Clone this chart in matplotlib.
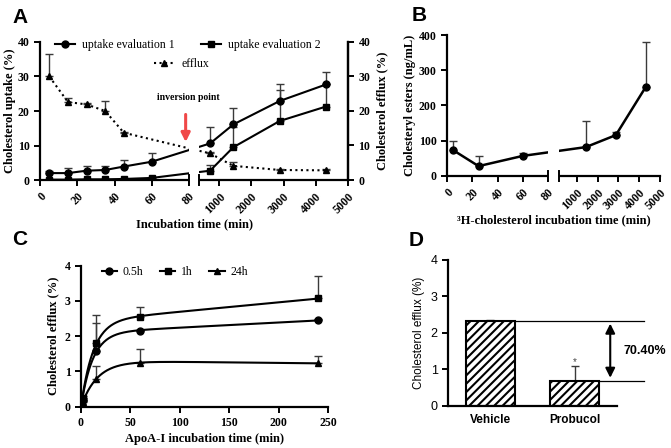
import matplotlib
matplotlib.use('Agg')
import matplotlib.pyplot as plt
import matplotlib.transforms as mtransforms
from matplotlib.patches import Rectangle
from matplotlib.lines import Line2D
import numpy as np

plt.rcParams['font.family'] = 'Liberation Serif'
plt.rcParams['font.weight'] = 'bold'
plt.rcParams['axes.labelweight'] = 'bold'
plt.rcParams['axes.linewidth'] = 1.6
plt.rcParams['xtick.major.width'] = 1.4
plt.rcParams['ytick.major.width'] = 1.4
plt.rcParams['xtick.major.size'] = 4
plt.rcParams['ytick.major.size'] = 4
plt.rcParams['xtick.labelsize'] = 8.5
plt.rcParams['ytick.labelsize'] = 8.5
plt.rcParams['hatch.linewidth'] = 1.5

# ---- panel A : uptake / efflux
a_time = [5, 15, 25, 35, 45, 60, 720, 1440, 2880, 4320]
a_up1 = [2.0, 2.0, 2.7, 2.9, 3.9, 5.3, 10.6, 16.1, 22.9, 27.7]
a_up1_err = [0.7, 1.5, 1.4, 1.3, 2.0, 2.6, 4.9, 4.8, 4.9, 3.7]
a_up2 = [0.1, 0.1, 0.2, 0.2, 0.3, 0.6, 2.7, 9.5, 17.1, 21.3]
a_up2_err = [0.1, 0.1, 0.1, 0.1, 0.1, 0.2, 1.7, 6.0, 9.0, 6.5]
a_eff_time = [5, 15, 25, 35, 45, 720, 1440, 2880, 4320]
a_eff = [30.0, 22.6, 21.9, 20.0, 13.7, 7.7, 4.1, 2.9, 2.8]
a_eff_err = [6.5, 1.2, 0.3, 3.0, 0.3, 0.3, 1.2, 0.3, 0.3]

# ---- panel B : cholesteryl esters
b_time = [5, 25, 60, 1440, 2880, 4320]
b_ce = [73, 28, 57, 82, 116, 253]
b_ce_err = [25, 29, 9, 73, 8, 128]

# ---- panel C : efflux vs apoA-I time
c_time = [2, 15, 60, 240]
c_05h = [0.20, 1.58, 2.15, 2.45]
c_05h_err = [0.05, 0.80, 0.03, 0.03]
c_1h = [0.25, 1.80, 2.55, 3.07]
c_1h_err = [0.05, 0.80, 0.27, 0.65]
c_24h = [0.12, 0.78, 1.25, 1.23]
c_24h_err = [0.05, 0.37, 0.38, 0.22]

# ---- panel D : probucol
d_groups = ['Vehicle', 'Probucol']
d_vals = [2.33, 0.69]
d_err = [0.03, 0.39]
d_label = '70.40%'

err_col = '#3a3a3a'


def break_scale(lo_end, hi_start, hi_end, gap):
    def fwd(x):
        x = np.asarray(x, float)
        return np.where(x <= lo_end, x / lo_end,
                        np.where(x < hi_start, 1 + (x - lo_end) / (hi_start - lo_end) * gap,
                                 1 + gap + (x - hi_start) / (hi_end - hi_start)))

    def inv(y):
        y = np.asarray(y, float)
        return np.where(y <= 1, y * lo_end,
                        np.where(y < 1 + gap, lo_end + (y - 1) / gap * (hi_start - lo_end),
                                 hi_start + (y - 1 - gap) * (hi_end - hi_start)))
    return fwd, inv


def add_break(ax, top_ax, lo_end, hi_start):
    tr = mtransforms.blended_transform_factory(ax.transData, ax.transAxes)
    top_ax.add_patch(Rectangle((lo_end, -0.05), hi_start - lo_end, 1.06, transform=tr,
                               facecolor='white', edgecolor='none', zorder=4, clip_on=False))
    for xb in (lo_end, hi_start):
        top_ax.plot([xb, xb], [-0.035, 0.035], color='black', lw=1.4, transform=tr,
                    clip_on=False, zorder=5)


def upper_err(ax, x, y, e, **kw):
    ax.errorbar(x, y, yerr=[np.zeros(len(e)), e], fmt='none', ecolor=err_col,
                elinewidth=1, capsize=3, capthick=1, **kw)


def rot_labels(ax):
    for lab in ax.get_xticklabels():
        lab.set_rotation(45)
        lab.set_ha('right')
        lab.set_rotation_mode('anchor')


W, H = 671, 448
fig = plt.figure(figsize=(6.71, 4.48), dpi=100)


def box(l, r, t, b):
    return [l / W, 1 - b / H, (r - l) / W, (b - t) / H]


leg_font = {'family': 'Liberation Serif', 'weight': 'normal', 'size': 8.5}

# ================= A
ax = fig.add_axes(box(40, 348, 42, 180))
ax2 = ax.twinx()
fwd, inv = break_scale(80, 375, 5000, 10 / 149)
ax.set_xscale('function', functions=(fwd, inv))
ax.set_xlim(0, 5000)
ax.set_ylim(0, 40)
ax2.set_ylim(0, 40)
upper_err(ax, a_time, a_up1, a_up1_err, zorder=2)
upper_err(ax, a_time, a_up2, a_up2_err, zorder=2)
ax.plot(a_time, a_up1, '-o', color='black', lw=1.5, ms=5, zorder=3)
ax.plot(a_time, a_up2, '-s', color='black', lw=1.5, ms=5, zorder=3)
upper_err(ax2, a_eff_time, a_eff, a_eff_err, zorder=2)
ax2.plot(a_eff_time, a_eff, ':^', color='black', lw=1.5, ms=5, zorder=3)
ax.set_xticks([0, 20, 40, 60, 80, 1000, 2000, 3000, 4000, 5000])
ax.set_xticklabels(['0', '20', '40', '60', '80', '1000', '2000', '3000', '4000', '5000'])
rot_labels(ax)
ax.set_yticks([0, 10, 20, 30, 40])
ax2.set_yticks([0, 10, 20, 30, 40])
ax.spines['top'].set_visible(False)
for s in ('top', 'left', 'bottom'):
    ax2.spines[s].set_visible(False)
ax2.spines['right'].set_linewidth(1.6)
ax.set_ylabel('Cholesterol uptake (%)', fontsize=9, labelpad=1)
ax2.set_ylabel('Cholesterol efflux (%)', fontsize=9, labelpad=4)
ax.set_xlabel('Incubation time (min)', fontsize=9, labelpad=2)
add_break(ax, ax2, 80, 375)
h1 = Line2D([], [], color='black', marker='o', lw=1.5, ms=5)
h2 = Line2D([], [], color='black', marker='s', lw=1.5, ms=5)
h3 = Line2D([], [], color='black', marker='^', ls=':', lw=1.5, ms=5)
leg1 = ax2.legend([h1, h2], ['uptake evaluation 1', 'uptake evaluation 2'], ncol=2,
                  loc='upper center', bbox_to_anchor=(0.48, 1.1), frameon=False, prop=leg_font,
                  handlelength=1.7, columnspacing=2.2, handletextpad=0.6)
ax2.add_artist(leg1)
ax2.legend([h3], ['efflux'], loc='upper center', bbox_to_anchor=(0.46, 0.96), frameon=False,
           prop=leg_font, handlelength=1.7, handletextpad=0.6)
ax2.annotate('', xy=(78.2, 10.2), xytext=(78.2, 19.8), xycoords='data',
             arrowprops=dict(arrowstyle='-|>', color='#f04848', lw=2.2, mutation_scale=13),
             zorder=6)
ax2.text(79.5, 22.6, 'inversion point', fontsize=7, ha='center', va='bottom', zorder=6)

# ================= B
bx = fig.add_axes(box(447, 660, 35, 176))
fwd_b, inv_b = break_scale(80, 150, 5000, 11 / 101)
bx.set_xscale('function', functions=(fwd_b, inv_b))
bx.set_xlim(0, 5000)
bx.set_ylim(0, 400)
upper_err(bx, b_time, b_ce, b_ce_err, zorder=2)
bx.plot(b_time, b_ce, '-o', color='black', lw=1.8, ms=5, zorder=3)
bx.set_xticks([0, 20, 40, 60, 80, 1000, 2000, 3000, 4000, 5000])
bx.set_xticklabels(['0', '20', '40', '60', '80', '1000', '2000', '3000', '4000', '5000'])
rot_labels(bx)
bx.set_yticks([0, 100, 200, 300, 400])
for s in ('top', 'right'):
    bx.spines[s].set_visible(False)
bx.set_ylabel('Cholesteryl esters (ng/mL)', fontsize=9, labelpad=2)
bx.set_xlabel('³H-cholesterol incubation time (min)', fontsize=9, labelpad=2)
add_break(bx, bx, 80, 150)

# ================= C
cx = fig.add_axes(box(81, 328, 265.7, 406.7))
cx.set_xlim(0, 250)
cx.set_ylim(0, 4)
xs = np.linspace(0, 240, 300)
tt = np.asarray(c_time, float)
for vals, errs, mk, lab in ((c_05h, c_05h_err, 'o', '0.5h'), (c_1h, c_1h_err, 's', '1h'),
                            (c_24h, c_24h_err, '^', '24h')):
    # least squares fit of y = A(1-exp(-kx)) + c x over a grid of k
    best = None
    for k in np.linspace(0.005, 0.5, 500):
        M = np.column_stack([1 - np.exp(-k * tt), tt])
        coef, *_ = np.linalg.lstsq(M, np.asarray(vals), rcond=None)
        r = np.sum((M @ coef - vals) ** 2)
        if best is None or r < best[0]:
            best = (r, k, coef)
    _, k, coef = best
    cx.plot(xs, coef[0] * (1 - np.exp(-k * xs)) + coef[1] * xs, color='black', lw=1.5, zorder=3)
    upper_err(cx, c_time, vals, errs, zorder=2)
    cx.plot(c_time, vals, mk, color='black', ms=5, zorder=4, label=lab)
cx.set_xticks([0, 50, 100, 150, 200, 250])
cx.set_yticks([0, 1, 2, 3, 4])
for s in ('top', 'right'):
    cx.spines[s].set_visible(False)
cx.set_ylabel('Cholesterol efflux (%)', fontsize=9, labelpad=4)
cx.set_xlabel('ApoA-I incubation time (min)', fontsize=9, labelpad=3)
hc = [Line2D([], [], color='black', marker=m, lw=1.5, ms=5) for m in 'os^']
cx.legend(hc, ['0.5h', '1h', '24h'], ncol=3, loc='upper left', bbox_to_anchor=(0.04, 1.07),
          frameon=False, prop=leg_font, handlelength=1.3, columnspacing=1.4, handletextpad=0.5)

# ================= D
dx = fig.add_axes(box(448, 617, 260, 405.7))
xpos = np.arange(len(d_groups))
dx.bar(xpos, d_vals, width=0.58, color='white', edgecolor='black', hatch='////', lw=1.5,
       zorder=2)
upper_err(dx, xpos, d_vals, d_err, zorder=1)
dx.set_xlim(-0.5, 1.5)
dx.set_ylim(0, 4)
dx.set_yticks([0, 1, 2, 3, 4])
dx.set_xticks(xpos)
dx.set_xticklabels(d_groups, family='Liberation Sans', weight='bold', fontsize=8.5)
for lab in dx.get_yticklabels():
    lab.set_family('Liberation Sans')
    lab.set_weight('normal')
    lab.set_fontsize(9)
dx.tick_params(axis='x', length=0, pad=6)
for s in ('top', 'right'):
    dx.spines[s].set_visible(False)
dx.set_ylabel('Cholesterol efflux (%)', family='Liberation Sans', weight='normal', fontsize=8.5)
dx.plot([0.29, 1.82], [d_vals[0], d_vals[0]], color='black', lw=0.9, clip_on=False)
dx.plot([1.29, 1.82], [d_vals[1], d_vals[1]], color='black', lw=0.9, clip_on=False)
dx.annotate('', xy=(1.42, d_vals[1]), xytext=(1.42, d_vals[0]),
            arrowprops=dict(arrowstyle='<|-|>', color='black', lw=1.5, mutation_scale=14),
            annotation_clip=False)
dx.text(1.58, 1.5, d_label, family='Liberation Sans', weight='bold', fontsize=9,
        va='center', ha='left')
dx.text(1, d_vals[1] + d_err[1] + 0.12, '*', family='Liberation Sans', weight='normal',
        fontsize=7, ha='center', va='center', color='#444444')

# panel letters
for lt, x0, y0 in (('A', 12, 8), ('B', 412, 6), ('C', 12, 230), ('D', 409, 231)):
    fig.text(x0 / W, 1 - y0 / H, lt, family='Liberation Sans', weight='bold', fontsize=15,
             va='top', ha='left')

fig.savefig('out.png', dpi=100)
